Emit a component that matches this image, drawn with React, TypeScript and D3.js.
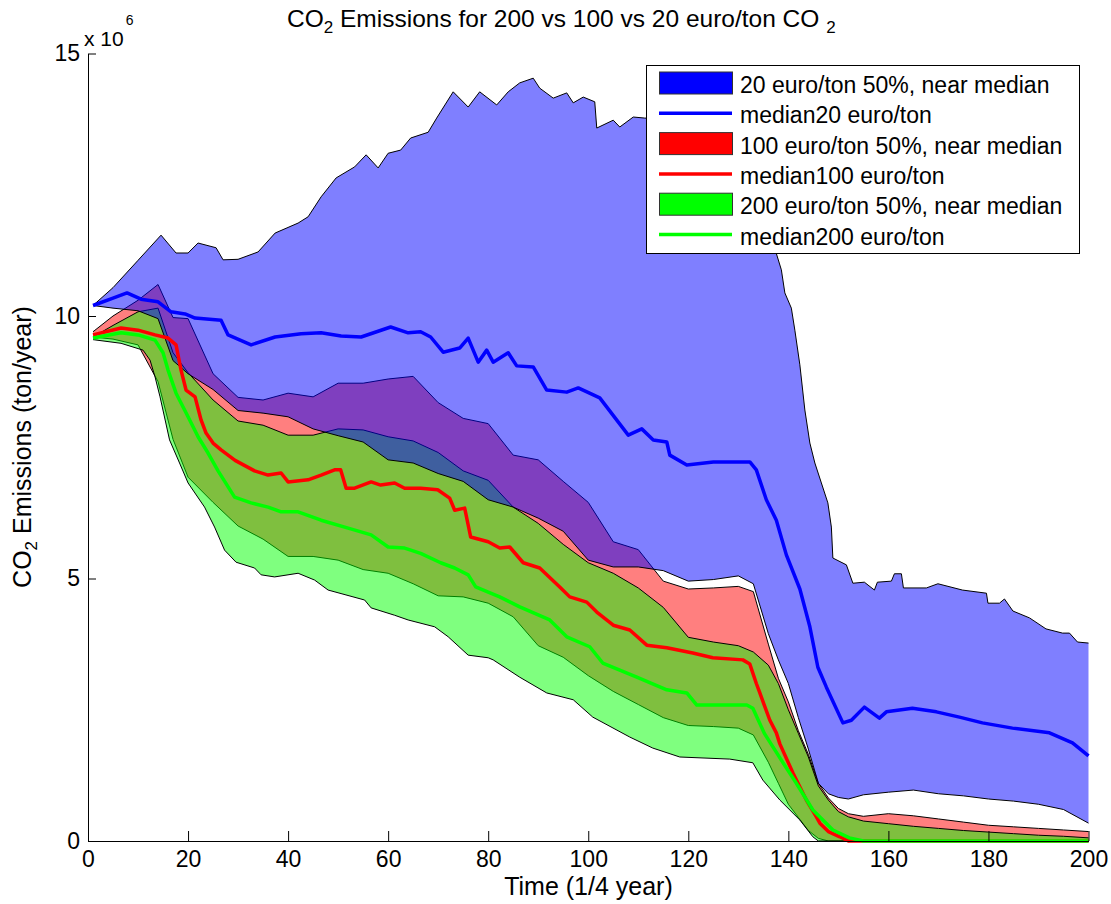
import React, { useEffect, useRef } from 'react'
import * as d3 from 'd3'

// shared time grid (quarter years) for the coarser band edges
const time = [1, 5, 10, 14, 17, 20, 25, 30, 35, 40, 45, 50, 55, 60, 65, 70, 75, 80, 85, 90, 95, 100, 105, 110, 115, 120, 125, 130, 133, 136, 138, 140, 142, 144, 146, 148, 150, 152, 155, 160, 165, 170, 175, 180, 185, 190, 195, 200]

// emissions, x 10^6 ton/year
// 20 euro/ton
const upper20Time = [1, 5, 10, 14.6, 17.6, 20, 22, 25.6, 27, 30, 34, 37.4, 42, 44, 46.6, 49.6, 53.3, 55.6, 58, 60, 62.5, 64.5, 68, 69.7, 73, 76, 78.3, 81.7, 84, 86.3, 89, 90.3, 93, 95.7, 97, 99, 101.3, 101.7, 105, 106.3, 109, 111.3, 115, 120, 125, 130, 134, 137.6, 138.6, 139.3, 140.6, 141.3, 142.3, 143.3, 144.3, 145.3, 146.6, 147.9, 148.6, 148.9, 151.6, 152.9, 155.2, 157.2, 157.8, 160.6, 161.2, 162.6, 163, 167.6, 169.9, 174.8, 179.6, 179.9, 182.2, 183.2, 184.9, 188.2, 191.5, 194.8, 196.2, 197.8, 200]
const upper20 = [10.2, 10.54, 11.06, 11.54, 11.2, 11.2, 11.39, 11.3, 11.07, 11.08, 11.22, 11.58, 11.77, 11.89, 12.27, 12.63, 12.84, 13.07, 12.82, 13.1, 13.16, 13.39, 13.5, 13.77, 14.27, 13.98, 14.27, 14.02, 14.27, 14.44, 14.53, 14.34, 14.15, 14.25, 14.06, 14.17, 14.08, 13.58, 13.73, 13.6, 13.79, 13.77, 13.75, 13.65, 13.45, 13.0, 12.2, 11.19, 10.88, 10.44, 10.15, 9.73, 9.07, 8.21, 7.58, 7.2, 6.82, 6.44, 5.98, 5.39, 5.26, 4.91, 4.93, 4.78, 4.93, 4.95, 5.09, 5.09, 4.82, 4.82, 4.9, 4.78, 4.72, 4.53, 4.53, 4.61, 4.38, 4.25, 4.04, 3.96, 3.96, 3.79, 3.77]
const median20Time = [1, 5, 7.8, 10.6, 14, 16.6, 19.4, 21.4, 26.6, 28, 32.6, 37.4, 42.6, 46.6, 50.6, 54.6, 60.5, 64, 66.5, 68.5, 71, 74.3, 76, 78, 79.7, 81, 84, 85.7, 89, 91.7, 95.7, 98, 102.3, 108, 110.7, 113, 115.7, 116.3, 119.7, 125, 132.3, 133.6, 135.6, 137.6, 139.6, 142.3, 144.3, 145.9, 147.6, 150.9, 152.6, 155.2, 158.2, 159.6, 164.8, 169.6, 174.2, 178.8, 184.8, 192.2, 196.8, 200]
const median20 = [10.2, 10.34, 10.44, 10.32, 10.27, 10.08, 10.04, 9.96, 9.92, 9.64, 9.45, 9.6, 9.66, 9.68, 9.62, 9.6, 9.79, 9.68, 9.7, 9.6, 9.31, 9.39, 9.58, 9.12, 9.35, 9.12, 9.3, 9.05, 9.03, 8.59, 8.55, 8.63, 8.44, 7.73, 7.85, 7.64, 7.6, 7.35, 7.16, 7.22, 7.22, 7.07, 6.5, 6.11, 5.45, 4.8, 4.08, 3.31, 2.93, 2.25, 2.3, 2.55, 2.34, 2.46, 2.53, 2.46, 2.36, 2.25, 2.15, 2.06, 1.87, 1.62]
const lower20 = [10.2, 10.15, 10.1, 9.95, 9.15, 8.9, 8.6, 8.2, 8.15, 8.08, 7.85, 7.72, 7.6, 7.26, 7.2, 7.0, 6.85, 6.5, 6.36, 6.15, 5.9, 5.35, 5.22, 5.22, 5.15, 4.95, 4.98, 5.05, 4.9, 3.95, 3.45, 3.0, 2.35, 1.75, 1.1, 0.9, 0.83, 0.8, 0.88, 0.93, 0.97, 0.9, 0.86, 0.8, 0.76, 0.7, 0.6, 0.34]

// 100 euro/ton
const upper100 = [9.7, 10.0, 10.3, 10.6, 9.97, 9.95, 8.9, 8.45, 8.4, 8.53, 8.46, 8.72, 8.72, 8.8, 8.85, 8.35, 8.05, 7.95, 7.35, 7.26, 6.85, 6.45, 5.7, 5.55, 4.95, 4.8, 4.82, 4.85, 4.75, 3.75, 3.1, 2.65, 2.1, 1.65, 1.1, 0.82, 0.62, 0.52, 0.47, 0.52, 0.48, 0.42, 0.36, 0.3, 0.27, 0.24, 0.21, 0.18]
const median100Time = [1, 6.6, 10, 13.4, 16, 17.6, 18.6, 19.6, 21.4, 22.6, 23.6, 25, 26.6, 29.4, 33.3, 36, 38.6, 40, 44, 46.6, 49.3, 50.5, 51.6, 53.3, 56.6, 58.5, 61.3, 63.3, 66.5, 69.9, 72.3, 73.3, 75.3, 76.5, 80, 82.3, 84.3, 87, 90.3, 94.3, 96.3, 99.7, 101.7, 105, 108.3, 111.7, 115.7, 120.9, 124.9, 130.9, 132.3, 133.6, 134.3, 136.3, 137.6, 138.3, 140.9, 143.6, 145.6, 146.3, 148, 150.3, 152, 200]
const median100 = [9.64, 9.77, 9.73, 9.64, 9.58, 9.45, 8.97, 8.59, 8.46, 8.02, 7.77, 7.58, 7.45, 7.25, 7.05, 6.97, 7.01, 6.84, 6.88, 6.97, 7.07, 7.07, 6.72, 6.72, 6.84, 6.78, 6.82, 6.72, 6.72, 6.69, 6.53, 6.3, 6.34, 5.79, 5.7, 5.58, 5.6, 5.3, 5.2, 4.84, 4.65, 4.55, 4.36, 4.11, 4.02, 3.73, 3.68, 3.58, 3.49, 3.45, 3.37, 3.0, 2.82, 2.3, 2.06, 1.85, 1.3, 0.78, 0.46, 0.34, 0.18, 0.08, 0, 0]
const lower100 = [9.6, 9.56, 9.45, 8.75, 7.65, 6.93, 6.45, 6.0, 5.75, 5.42, 5.42, 5.35, 5.17, 5.1, 4.9, 4.67, 4.65, 4.53, 4.27, 3.72, 3.5, 3.15, 2.85, 2.6, 2.35, 2.2, 2.18, 2.15, 2.02, 1.5, 1.1, 0.7, 0.45, 0.2, 0.05, 0, 0, 0, 0, 0, 0, 0, 0, 0, 0, 0, 0, 0]

// 200 euro/ton
const upper200 = [9.6, 9.82, 10.08, 10.15, 9.3, 8.92, 8.4, 8.0, 7.92, 7.73, 7.73, 7.85, 7.83, 7.7, 7.62, 7.4, 7.05, 6.87, 6.36, 6.05, 5.65, 5.3, 5.1, 4.82, 4.45, 3.88, 3.79, 3.72, 3.6, 3.35, 3.0, 2.5, 2.05, 1.6, 1.05, 0.78, 0.56, 0.46, 0.38, 0.33, 0.28, 0.24, 0.2, 0.17, 0.14, 0.11, 0.09, 0.06]
const median200Time = [1, 6.6, 10, 13.4, 15, 16, 17.6, 20, 22, 24, 26, 29.3, 32.6, 36, 38.6, 42, 46.6, 52, 56.6, 60, 63.3, 66.5, 70.5, 73.3, 76, 77.5, 80, 82.3, 86.3, 92.3, 95.7, 100.3, 102.9, 109.7, 115.7, 119.7, 121.7, 131.7, 132.9, 135.2, 138.6, 141.6, 144.9, 148.9, 152.2, 155, 200]
const median200 = [9.58, 9.68, 9.64, 9.54, 9.3, 8.97, 8.53, 8.08, 7.7, 7.39, 7.05, 6.55, 6.44, 6.36, 6.27, 6.27, 6.11, 5.96, 5.83, 5.6, 5.58, 5.48, 5.3, 5.2, 5.07, 4.84, 4.74, 4.65, 4.46, 4.21, 3.89, 3.7, 3.39, 3.12, 2.88, 2.82, 2.59, 2.59, 2.53, 2.05, 1.54, 1.1, 0.59, 0.21, 0.06, 0, 0]
const lower200Time = [1, 6.6, 11, 12.4, 13.4, 14.4, 16.3, 18.3, 20, 23.3, 25.3, 27.3, 29.6, 33.3, 34.6, 37.3, 42, 45.3, 48, 55.3, 56.6, 61.3, 64, 69.3, 72, 76, 80, 81, 86.3, 91.7, 97, 100.9, 108.3, 112.9, 118.3, 128.3, 132.9, 134.9, 138.3, 142.3, 144.9, 146, 200]
const lower200 = [9.55, 9.48, 9.35, 9.16, 8.84, 8.46, 7.64, 7.2, 6.82, 6.36, 5.98, 5.54, 5.31, 5.2, 5.07, 5.03, 5.1, 4.97, 4.78, 4.59, 4.44, 4.3, 4.21, 4.08, 3.89, 3.54, 3.49, 3.45, 3.12, 2.82, 2.69, 2.36, 1.98, 1.77, 1.6, 1.56, 1.49, 1.16, 0.78, 0.4, 0.08, 0, 0]

const xTicks = [0, 20, 40, 60, 80, 100, 120, 140, 160, 180, 200]
const yTicks = [0, 5, 10, 15]

const legendLabels = [
  '20 euro/ton 50%, near median',
  'median20 euro/ton',
  '100 euro/ton 50%, near median',
  'median100 euro/ton',
  '200 euro/ton 50%, near median',
  'median200 euro/ton',
]

const FONT = '"Liberation Sans", Arial, Helvetica, sans-serif'
const WIDTH = 1111
const HEIGHT = 904
const MARGIN = { LEFT: 88, RIGHT: 22, TOP: 53.5, BOTTOM: 63 }

export default function App() {
  const svgRef = useRef<SVGSVGElement>(null)

  useEffect(() => {
    const svg = d3.select(svgRef.current)
    svg.selectAll('*').remove()

    const x = d3.scaleLinear().domain([0, 200]).range([MARGIN.LEFT, WIDTH - MARGIN.RIGHT - 0.5])
    const y = d3.scaleLinear().domain([0, 15]).range([HEIGHT - MARGIN.BOTTOM, MARGIN.TOP])

    const pairs = (ts: number[], vs: number[]) => vs.map((v, i) => [ts[i], v] as [number, number])
    const lineGen = d3.line<[number, number]>()
      .x(d => x(d[0]))
      .y(d => y(d[1]))

    // fills drawn red, green, blue so the overlaps mix the way the picture does
    const bands = [
      { hi: pairs(time, upper100), lo: pairs(time, lower100), color: '#ff0000' },
      { hi: pairs(time, upper200), lo: pairs(lower200Time, lower200), color: '#00ff00' },
      { hi: pairs(upper20Time, upper20), lo: pairs(time, lower20), color: '#0000ff' },
    ]

    bands.forEach(b => {
      const outline = b.hi.concat(b.lo.slice().reverse())
      svg.append('path')
        .attr('d', lineGen(outline) + 'Z')
        .attr('fill', b.color)
        .attr('fill-opacity', 0.5)
      ;[b.hi, b.lo].forEach(edge => {
        svg.append('path')
          .attr('d', lineGen(edge))
          .attr('fill', 'none')
          .attr('stroke', '#000')
          .attr('stroke-width', 1)
      })
    })

    // medians on top
    const medians = [
      { pts: pairs(median20Time, median20), color: '#0000ff' },
      { pts: pairs(median100Time, median100), color: '#ff0000' },
      { pts: pairs(median200Time, median200), color: '#00ff00' },
    ]
    medians.forEach(m => {
      svg.append('path')
        .attr('d', lineGen(m.pts))
        .attr('fill', 'none')
        .attr('stroke', m.color)
        .attr('stroke-width', 3.5)
        .attr('stroke-linejoin', 'round')
    })

    // axes, ticks pointing inward
    const xAxis = svg.append('g')
      .attr('transform', `translate(0, ${HEIGHT - MARGIN.BOTTOM})`)
      .call(d3.axisBottom(x).tickValues(xTicks).tickSizeInner(-10).tickSizeOuter(0).tickPadding(10))
    const yAxis = svg.append('g')
      .attr('transform', `translate(${MARGIN.LEFT}, 0)`)
      .call(d3.axisLeft(y).tickValues(yTicks).tickSizeInner(-8).tickSizeOuter(0).tickPadding(8))
    ;[xAxis, yAxis].forEach(g => {
      g.attr('font-size', 23).attr('font-family', FONT)
      g.selectAll('path, line').attr('stroke', '#000')
      g.selectAll('text').attr('fill', '#000')
    })

    // exponent label
    const expo = svg.append('text')
      .attr('x', 84)
      .attr('y', 46)
      .attr('font-family', FONT)
      .attr('font-size', 21)
      .text('x 10')
    expo.append('tspan').attr('font-size', 14).attr('dx', 2).attr('dy', -21).text('6')

    // title
    const title = svg.append('text')
      .attr('x', 287)
      .attr('y', 27)
      .attr('font-family', FONT)
      .attr('font-size', 24.5)
    title.append('tspan').text('CO')
    title.append('tspan').attr('font-size', 17).attr('dy', 6).text('2')
    title.append('tspan').attr('dy', -6).text(' Emissions for 200 vs 100 vs 20 euro/ton CO ')
    title.append('tspan').attr('font-size', 17).attr('dy', 6).text('2')

    // axis labels
    svg.append('text')
      .attr('x', (MARGIN.LEFT + WIDTH - MARGIN.RIGHT) / 2)
      .attr('y', 895)
      .attr('text-anchor', 'middle')
      .attr('font-family', FONT)
      .attr('font-size', 25)
      .text('Time (1/4 year)')

    const yLabel = svg.append('text')
      .attr('transform', 'translate(31, 447) rotate(-90)')
      .attr('text-anchor', 'middle')
      .attr('font-family', FONT)
      .attr('font-size', 25)
    yLabel.append('tspan').text('CO')
    yLabel.append('tspan').attr('font-size', 17).attr('dy', 6).text('2')
    yLabel.append('tspan').attr('dy', -6).text(' Emissions (ton/year)')

    // legend
    const legend = svg.append('g')
    legend.append('rect')
      .attr('x', 646.5).attr('y', 65.5)
      .attr('width', 433).attr('height', 188)
      .attr('fill', '#fff').attr('stroke', '#000').attr('stroke-width', 1)
    const legendColors = ['#0000ff', '#0000ff', '#ff0000', '#ff0000', '#00ff00', '#00ff00']
    legendLabels.forEach((label, i) => {
      const cy = 83 + i * 30.3
      if (i % 2 === 0) {
        legend.append('rect')
          .attr('x', 659.5).attr('y', cy - 11)
          .attr('width', 73).attr('height', 22)
          .attr('fill', legendColors[i]).attr('stroke', '#333').attr('stroke-width', 1)
      } else {
        legend.append('line')
          .attr('x1', 659).attr('x2', 732)
          .attr('y1', cy).attr('y2', cy)
          .attr('stroke', legendColors[i]).attr('stroke-width', 3.5)
      }
      legend.append('text')
        .attr('x', 740)
        .attr('y', cy + 10)
        .attr('font-family', FONT)
        .attr('font-size', 23)
        .text(label)
    })
  }, [])

  return (
    <div style={{ position: 'absolute', left: 0, top: 0 }}>
      <svg ref={svgRef} width={WIDTH} height={HEIGHT} style={{ display: 'block', background: '#fff' }} />
    </div>
  )
}
